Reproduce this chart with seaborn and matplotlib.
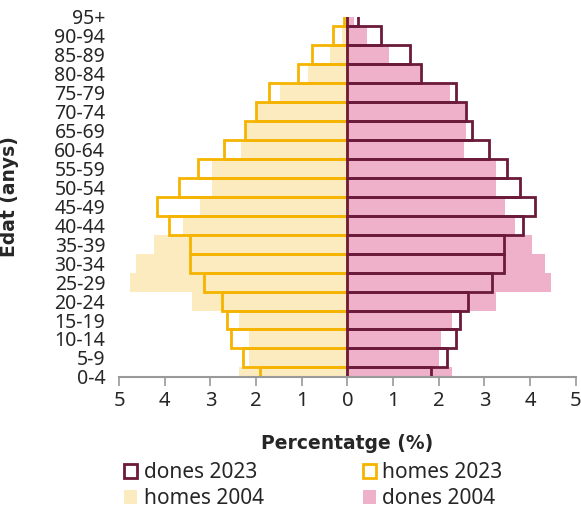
import matplotlib
matplotlib.use("Agg")
import matplotlib.pyplot as plt
from matplotlib.patches import Patch
import numpy as np
import pandas as pd
import seaborn as sns

# age groups, oldest first (seaborn puts the first category on top)
ages = ['95+', '90-94', '85-89', '80-84', '75-79', '70-74', '65-69', '60-64',
        '55-59', '50-54', '45-49', '40-44', '35-39', '30-34', '25-29', '20-24',
        '15-19', '10-14', '5-9', '0-4']

# percentages
homes_2004 = [0.04, 0.12, 0.38, 0.86, 1.47, 1.98, 2.22, 2.34, 2.97, 2.97,
              3.22, 3.61, 4.24, 4.63, 4.77, 3.40, 2.38, 2.16, 2.16, 2.38]
dones_2004 = [0.15, 0.43, 0.91, 1.58, 2.24, 2.57, 2.59, 2.55, 3.25, 3.25,
              3.45, 3.68, 4.04, 4.32, 4.46, 3.26, 2.29, 2.04, 2.00, 2.28]
homes_2023 = [0.08, 0.31, 0.77, 1.09, 1.72, 2.00, 2.24, 2.71, 3.27, 3.68,
              4.16, 3.90, 3.45, 3.45, 3.15, 2.75, 2.63, 2.55, 2.29, 1.92]
dones_2023 = [0.24, 0.73, 1.37, 1.62, 2.37, 2.59, 2.73, 3.11, 3.50, 3.77,
              4.10, 3.85, 3.43, 3.42, 3.17, 2.65, 2.46, 2.38, 2.18, 1.82]

ticks = [-5, -4, -3, -2, -1, 0, 1, 2, 3, 4, 5]

c_h04 = '#FDEBC0'
c_d04 = '#EEB1C9'
c_h23 = '#F5B400'
c_d23 = '#6B1A3A'

sns.set_style('white')
plt.rcParams['font.family'] = ['Noto Sans', 'DejaVu Sans']

df = pd.DataFrame({'edat': ages,
                   'h04': -np.array(homes_2004), 'd04': dones_2004,
                   'h23': -np.array(homes_2023), 'd23': dones_2023})

fig = plt.figure(figsize=(5.81, 5.12), dpi=100)
ax = fig.add_axes([0.205, 0.264, 0.786, 0.703])

# 2004 as filled bars behind
sns.barplot(data=df, x='h04', y='edat', order=ages, color=c_h04, width=1.0,
            saturation=1, linewidth=0, ax=ax)
sns.barplot(data=df, x='d04', y='edat', order=ages, color=c_d04, width=1.0,
            saturation=1, linewidth=0, ax=ax)
# 2023 as outlines on top
sns.barplot(data=df, x='h23', y='edat', order=ages, color=c_h23, width=1.0,
            fill=False, linewidth=2.0, ax=ax)
sns.barplot(data=df, x='d23', y='edat', order=ages, color=c_d23, width=1.0,
            fill=False, linewidth=2.0, ax=ax)

ax.set_xlim(-5, 5)
ax.set_ylim(19, 0)
ax.set_xticks(ticks)
ax.set_xticklabels([str(abs(t)) for t in ticks], fontsize=14.5)
ax.tick_params(axis='y', labelsize=14, length=0, pad=10)
ax.tick_params(axis='x', length=6.5, width=1.2, color='#999999', pad=4, bottom=True)
for s in ['top', 'right', 'left']:
    ax.spines[s].set_visible(False)
ax.spines['bottom'].set_color('#999999')
ax.spines['bottom'].set_linewidth(1.5)

ax.set_xlabel('Percentatge (%)', fontsize=13.5, fontweight='bold', labelpad=16,
              family='DejaVu Sans')
ax.set_ylabel('Edat (anys)', fontsize=13.5, fontweight='bold',
              family='DejaVu Sans')
ax.yaxis.set_label_coords(-0.22, 0.5)

handles = [Patch(facecolor='white', edgecolor=c_d23, linewidth=2.0, label='dones 2023'),
           Patch(facecolor=c_h04, edgecolor='none', label='homes 2004'),
           Patch(facecolor='white', edgecolor=c_h23, linewidth=2.0, label='homes 2023'),
           Patch(facecolor=c_d04, edgecolor='none', label='dones 2004')]
fig.legend(handles=handles, ncol=2, loc='upper left',
           bbox_to_anchor=(0.199, 0.114), frameon=False, fontsize=15,
           handlelength=0.65, handleheight=0.65, handletextpad=0.3,
           columnspacing=4.75, labelspacing=0.25, borderaxespad=0)

fig.savefig('out.png', dpi=100)
